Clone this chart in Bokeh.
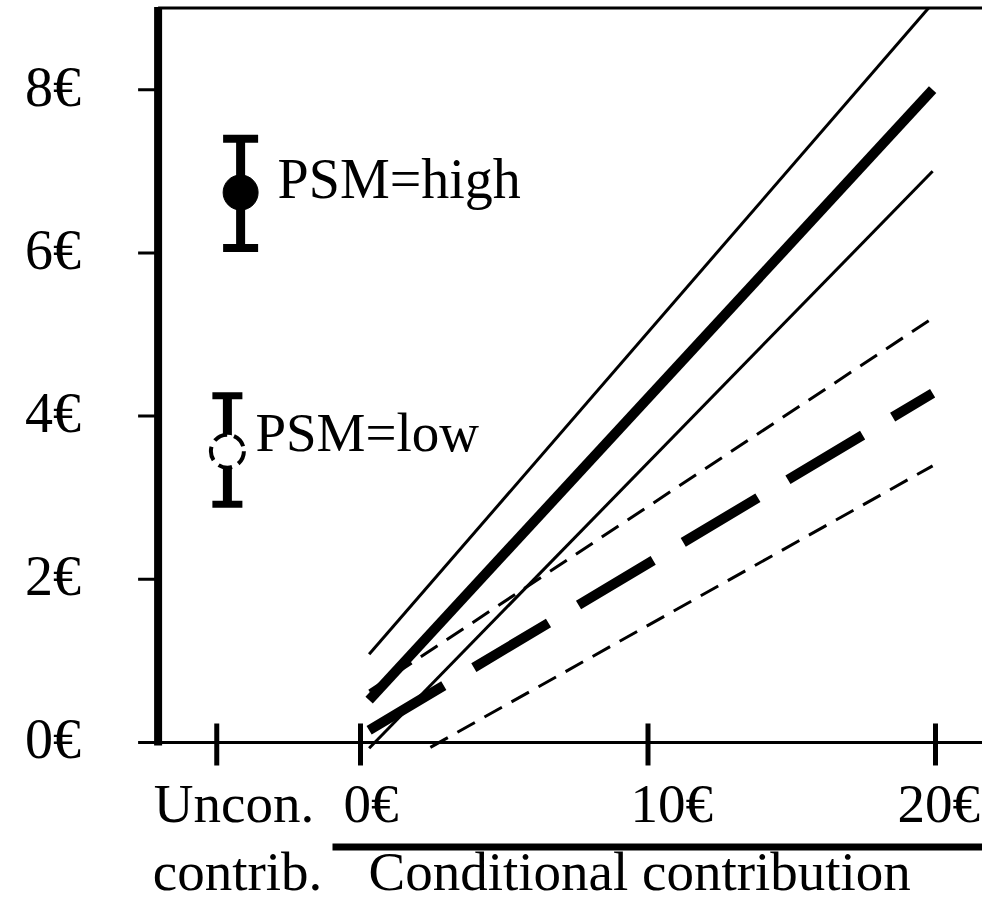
from bokeh.plotting import figure
from bokeh.models import Range1d, Label, ColumnDataSource
from bokeh.embed import file_html
from bokeh.resources import INLINE

# ---------------- data ----------------
# unconditional contribution (mean with confidence interval)
unc_labels = ["PSM=high", "PSM=low"]
unc_x = [-4.17, -4.63]
unc_mean = [6.74, 3.57]
unc_upper = [7.40, 4.25]
unc_lower = [6.06, 2.92]

# conditional contribution lines (euro conditional contribution -> euro)
high_mean_x = [0.3, 19.9]
high_mean = [0.52, 8.0]
high_upper_x = [0.3, 19.76]
high_upper = [1.08, 9.0]
high_lower_x = [0.3, 19.9]
high_lower = [-0.07, 7.0]
low_mean_x = [0.3, 19.9]
low_mean = [0.15, 4.28]
low_upper_x = [0.3, 19.9]
low_upper = [0.63, 5.2]
low_lower_x = [2.43, 19.9]
low_lower = [-0.06, 3.39]

x_ticks = [-5, 0, 10, 20]
x_tick_labels = ["Uncon.", "0€", "10€", "20€"]
y_ticks = [0, 2, 4, 6, 8]
y_tick_labels = ["0€", "2€", "4€", "6€", "8€"]
x_axis_min = -7.04
y_axis_max = 9.0

FONT = "Liberation Serif"
FS = "55px"
MID = 18.6  # distance from alphabetic baseline to em-box middle at 55px

W, H = 982, 902
X0, X1 = -12.522, 21.635
Y0, Y1 = -1.961, 9.093
SX = W / (X1 - X0)      # px per euro (x)
SY = H / (Y1 - Y0)      # px per euro (y)

p = figure(width=W, height=H, output_backend="svg", toolbar_location=None,
           x_range=Range1d(X0, X1), y_range=Range1d(Y0, Y1),
           min_border=0, min_border_left=0, min_border_right=0,
           min_border_top=0, min_border_bottom=0,
           x_axis_location=None, y_axis_location=None)
p.grid.visible = False
p.outline_line_color = None
p.background_fill_color = "white"
p.border_fill_color = "white"

# ---- axes drawn from the tick arrays ----
# left spine
p.segment(x0=[x_axis_min], y0=[-3 / SY], x1=[x_axis_min], y1=[y_axis_max + 1 / SY],
          line_color="black", line_width=8)
# top border
p.segment(x0=[x_axis_min], y0=[y_axis_max], x1=[X1], y1=[y_axis_max],
          line_color="black", line_width=3)
# x axis line
p.segment(x0=[x_axis_min], y0=[0], x1=[X1], y1=[0], line_color="black", line_width=3)
# y ticks (outward, 20 px)
p.segment(x0=[x_axis_min - 20 / SX] * len(y_ticks), y0=y_ticks,
          x1=[x_axis_min] * len(y_ticks), y1=y_ticks, line_color="black", line_width=3)
# x ticks (crossing the axis)
p.segment(x0=x_ticks, y0=[-23 / SY] * len(x_ticks), x1=x_ticks, y1=[19 / SY] * len(x_ticks),
          line_color="black", line_width=5)

# ---- conditional lines ----
p.line(high_upper_x, high_upper, line_color="black", line_width=3)
p.line(high_lower_x, high_lower, line_color="black", line_width=3)
p.line(high_mean_x, high_mean, line_color="black", line_width=10)
p.line(low_upper_x, low_upper, line_color="black", line_width=3, line_dash="20 11")
p.line(low_lower_x, low_lower, line_color="black", line_width=3, line_dash="20 11")
p.line(low_mean_x, low_mean, line_color="black", line_width=10, line_dash="87 35")

# ---- unconditional error bars ----
src = ColumnDataSource(dict(x=unc_x, mean=unc_mean, up=unc_upper, lo=unc_lower,
                            cap=[35, 30], cw=[8, 7]))
p.segment(x0="x", y0="lo", x1="x", y1="up", source=src, line_color="black", line_width=9)
p.scatter(x="x", y="up", source=src, marker="dash", size="cap", line_width="cw", line_color="black")
p.scatter(x="x", y="lo", source=src, marker="dash", size="cap", line_width="cw", line_color="black")
p.scatter(x=unc_x[:1], y=unc_mean[:1], marker="circle", size=35,
          fill_color="black", line_color="black")
p.scatter(x=unc_x[1:], y=unc_mean[1:], marker="circle", size=33,
          fill_color="white", line_color="black", line_width=4, line_dash="14 7")


def lab(text, x, y, xo, yo, align="left", size=FS):
    p.add_layout(Label(x=x, y=y, x_offset=xo, y_offset=yo, text=text,
                       text_font=FONT, text_font_size=size, text_color="black",
                       text_align=align, text_baseline="middle"))


# y tick labels
for t, l in zip(y_ticks, y_tick_labels):
    lab(l, x_axis_min, t, -77, 3, align="right", size="56px")

# point labels (baseline 5px below / level with the mean)
lab(unc_labels[0], unc_x[0], unc_mean[0], 37, MID - 5, size="56px")
lab(unc_labels[1], unc_x[1], unc_mean[1], 28, MID)

# x tick labels (baseline 80 px below the axis)
for t, l, xo in zip(x_ticks, x_tick_labels, [-63, -17, -17.5, -38]):
    lab(l, t, 0, xo, -80 + MID)

# bottom captions (baseline ~148 px below the axis, kept inside the canvas)
lab("contrib.", x_ticks[0], 0, -64, -148 + MID)
lab("Conditional contribution", x_ticks[1], 0, 8, -148 + MID)
# underline of the conditional part
p.segment(x0=[x_ticks[1] - 28 / SX], y0=[-104.5 / SY], x1=[X1], y1=[-104.5 / SY],
          line_color="black", line_width=7)

open("out.html", "w").write(file_html(p, INLINE))
